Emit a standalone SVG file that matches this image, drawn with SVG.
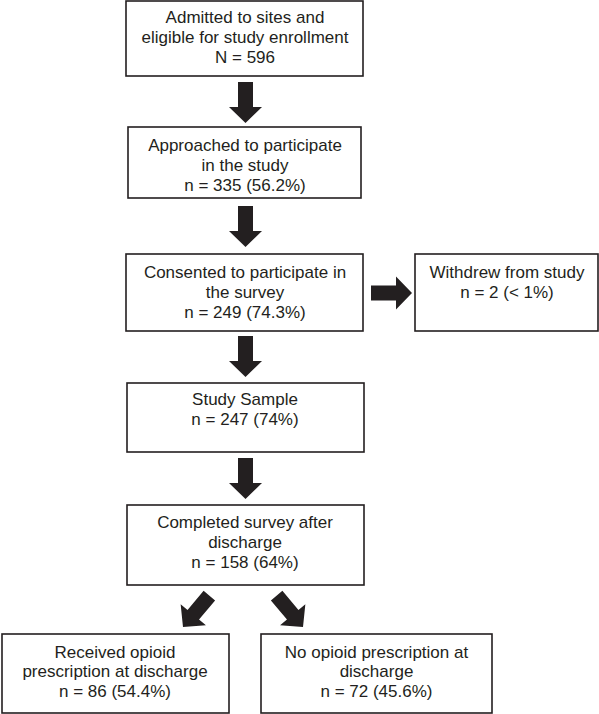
<svg xmlns="http://www.w3.org/2000/svg" xmlns:xlink="http://www.w3.org/1999/xlink" width="599" height="714" viewBox="0 0 599 714">
<style>
.box{fill:#fff;stroke:#231f20;stroke-width:1.6}
.t{font-family:"Liberation Sans",Arial,sans-serif;font-size:17px;fill:#231f20;text-anchor:middle}
.arr{fill:#231f20}
</style>
<defs>
<path id="arrow" d="M-7.5,-41 H7.5 V-16 H16.5 L0,0 L-16.5,-16 H-7.5 Z"/>
</defs>
<rect width="599" height="714" fill="#fff"/>
<g id="connectors" class="arr">
<use xlink:href="#arrow" transform="translate(245.5,123)"/>
<use xlink:href="#arrow" transform="translate(245.5,247)"/>
<use xlink:href="#arrow" transform="translate(245.5,377)"/>
<use xlink:href="#arrow" transform="translate(245.5,499)"/>
<use xlink:href="#arrow" transform="translate(412,293) rotate(-90)"/>
<use xlink:href="#arrow" transform="translate(183,627) rotate(40)"/>
<use xlink:href="#arrow" transform="translate(303,627) rotate(-40)"/>
</g>
<g id="n1">
<rect class="box" x="126" y="1" width="237" height="75"/>
<text class="t" x="245" y="23">Admitted to sites and</text>
<text class="t" x="245" y="43">eligible for study enrollment</text>
<text class="t" x="245" y="63">N = 596</text>
</g>
<g id="n2">
<rect class="box" x="128" y="127" width="233" height="71"/>
<text class="t" x="245" y="151">Approached to participate</text>
<text class="t" x="245" y="171">in the study</text>
<text class="t" x="245" y="191">n = 335 (56.2%)</text>
</g>
<g id="n3">
<rect class="box" x="126" y="254" width="237" height="77"/>
<text class="t" x="245" y="278">Consented to participate in</text>
<text class="t" x="245" y="298">the survey</text>
<text class="t" x="245" y="318">n = 249 (74.3%)</text>
</g>
<g id="n_withdrew">
<rect class="box" x="415" y="254" width="183" height="77"/>
<text class="t" x="507" y="278">Withdrew from study</text>
<text class="t" x="507" y="298">n = 2 (&lt; 1%)</text>
</g>
<g id="n4">
<rect class="box" x="127" y="383" width="237" height="69"/>
<text class="t" x="245" y="405">Study Sample</text>
<text class="t" x="245" y="425">n = 247 (74%)</text>
</g>
<g id="n5">
<rect class="box" x="127" y="505" width="237" height="80"/>
<text class="t" x="245" y="528">Completed survey after</text>
<text class="t" x="245" y="548">discharge</text>
<text class="t" x="245" y="568">n = 158 (64%)</text>
</g>
<g id="n_received">
<rect class="box" x="2" y="634" width="227" height="79"/>
<text class="t" x="115" y="658">Received opioid</text>
<text class="t" x="115" y="677">prescription at discharge</text>
<text class="t" x="115" y="697">n = 86 (54.4%)</text>
</g>
<g id="n_none">
<rect class="box" x="261" y="634" width="231" height="79"/>
<text class="t" x="376.5" y="658">No opioid prescription at</text>
<text class="t" x="376.5" y="677">discharge</text>
<text class="t" x="376.5" y="697">n = 72 (45.6%)</text>
</g>
</svg>
